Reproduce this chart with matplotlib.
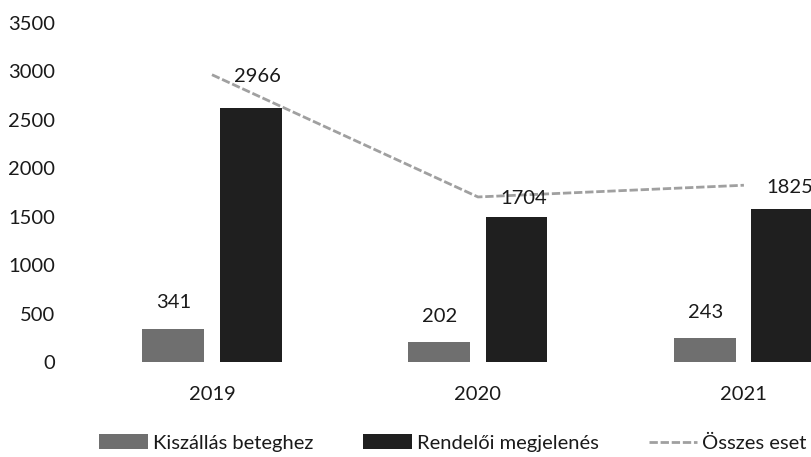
import matplotlib.pyplot as plt
import numpy as np

plt.rcParams['font.family'] = ['Lato', 'DejaVu Sans']

# data
years = ["2019", "2020", "2021"]
kiszallas = [341, 202, 243]            # Kiszállás beteghez
rendeloi = [2625, 1502, 1582]          # Rendelői megjelenés
osszes = [2966, 1704, 1825]            # Összes eset
y_ticks = [0, 500, 1000, 1500, 2000, 2500, 3000, 3500]

W, H = 812, 457
fig = plt.figure(figsize=(W / 100, H / 100), dpi=100)
ax = fig.add_axes([79 / W, (H - 362) / H, (W - 79) / W, (362 - 23) / H])

x = np.arange(len(years))
bw = 0.233
off = 0.145
fs = 14.5

light = "#6f6f6f"
dark = "#1f1f1f"
line_c = "#a0a0a0"
txt = "#1a1a1a"

b1 = ax.bar(x - off, kiszallas, bw, color=light, label="Kiszállás beteghez")
b2 = ax.bar(x + off, rendeloi, bw, color=dark, label="Rendelői megjelenés")
ln, = ax.plot(x, osszes, color=line_c, lw=2.0, ls=(0, (3, 1)), label="Összes eset")

# labels above the light bars
for xi, v in zip(x, kiszallas):
    ax.annotate(str(v), (xi - off, v), xytext=(0, 26), textcoords="offset pixels",
                ha="center", va="center", fontsize=fs, color=txt)

# labels right of the line points
for xi, v in zip(x, osszes):
    ax.annotate(str(v), (xi, v), xytext=(22, -2), textcoords="offset pixels",
                ha="left", va="center", fontsize=fs, color=txt)

ax.set_xlim(-0.5, 2.256)
ax.set_ylim(0, 3500)
ax.set_yticks(y_ticks)
ax.set_yticklabels([str(t) for t in y_ticks], fontsize=fs, color=txt)
ax.set_xticks(x)
ax.set_xticklabels(years, fontsize=fs, color=txt)
ax.tick_params(length=0)
ax.tick_params(axis="y", pad=17)
ax.tick_params(axis="x", pad=17)
for s in ax.spines.values():
    s.set_visible(False)

fig.legend(handles=[b1, b2, ln], loc="center", bbox_to_anchor=(453 / W, (H - 443) / H),
           ncol=3, frameon=False, fontsize=fs, handlelength=2.4, handletextpad=0.25,
           columnspacing=2.5, labelcolor=txt)

fig.savefig("out.png", dpi=100)
